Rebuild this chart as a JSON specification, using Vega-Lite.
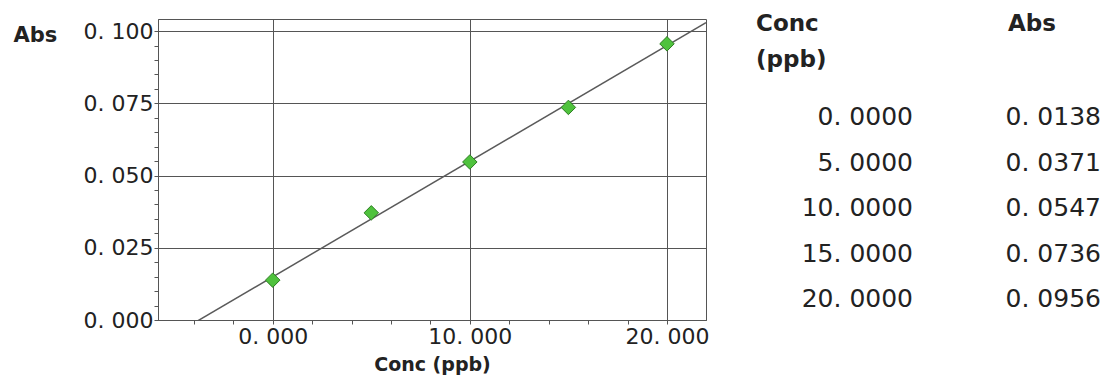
{
  "$schema": "https://vega.github.io/schema/vega-lite/v6.json",
  "padding": {"left": 12, "top": 13, "right": 0, "bottom": 0},
  "autosize": {"type": "pad"},
  "background": "white",
  "bounds": "flush",
  "spacing": 20,
  "config": {
    "font": "DejaVu Sans",
    "view": {"stroke": "#555555", "strokeWidth": 1}
  },
  "data": {
    "values": [
      {"conc": 0, "abs": 0.0138, "concText": "0. 0000", "absText": "0. 0138"},
      {"conc": 5, "abs": 0.0371, "concText": "5. 0000", "absText": "0. 0371"},
      {"conc": 10, "abs": 0.0547, "concText": "10. 0000", "absText": "0. 0547"},
      {"conc": 15, "abs": 0.0736, "concText": "15. 0000", "absText": "0. 0736"},
      {"conc": 20, "abs": 0.0956, "concText": "20. 0000", "absText": "0. 0956"}
    ]
  },
  "hconcat": [
    {
      "width": 548,
      "height": 301,
      "encoding": {
        "x": {
          "field": "conc",
          "type": "quantitative",
          "scale": {"domain": [-5.82, 21.98], "nice": false, "zero": false},
          "axis": {
            "title": "Conc (ppb)",
            "values": [-4, -2, 0, 2, 4, 6, 8, 10, 12, 14, 16, 18, 20],
            "labelExpr": "datum.value % 10 === 0 ? replace(format(datum.value, '.3f'), '.', '. ') : ''",
            "labelFontSize": 22,
            "labelColor": "#222222",
            "labelPadding": 2,
            "labelFlush": false,
            "labelOverlap": false,
            "grid": true,
            "gridColor": "#555555",
            "gridOpacity": {"condition": {"test": "datum.value % 10 === 0", "value": 1}, "value": 0},
            "tickColor": "#555555",
            "tickSize": 4,
            "domainColor": "#555555",
            "titleFontSize": 19,
            "titleFontWeight": "bold",
            "titleColor": "#222222",
            "titlePadding": 8
          }
        },
        "y": {
          "field": "abs",
          "type": "quantitative",
          "scale": {"domain": [0, 0.1042], "nice": false, "zero": false},
          "axis": {
            "title": "Abs",
            "values": [0, 0.005, 0.01, 0.015, 0.02, 0.025, 0.03, 0.035, 0.04, 0.045, 0.05, 0.055, 0.06, 0.065, 0.07, 0.075, 0.08, 0.085, 0.09, 0.095, 0.1],
            "labelExpr": "abs(datum.value * 40 - round(datum.value * 40)) < 0.001 ? replace(format(datum.value, '.3f'), '.', '. ') : ''",
            "labelFontSize": 22,
            "labelColor": "#222222",
            "labelPadding": 1,
            "labelOverlap": false,
            "labelFlush": false,
            "grid": true,
            "gridColor": "#555555",
            "gridOpacity": {"condition": {"test": "abs(datum.value * 40 - round(datum.value * 40)) < 0.001", "value": 1}, "value": 0},
            "tickColor": "#555555",
            "tickSize": 4,
            "domainColor": "#555555",
            "titleFontSize": 21,
            "titleFontWeight": "bold",
            "titleColor": "#222222",
            "titleAngle": 0,
            "titleAlign": "left",
            "titleBaseline": "middle",
            "titleX": -145,
            "titleY": 16
          }
        }
      },
      "layer": [
        {
          "transform": [{"regression": "abs", "on": "conc", "extent": [-5.82, 21.98]}],
          "mark": {"type": "line", "color": "#5a5a5a", "strokeWidth": 1.5, "clip": true}
        },
        {
          "mark": {"type": "point", "shape": "diamond", "filled": true, "fill": "#4fc23d", "stroke": "#2d7f22", "strokeWidth": 1, "size": 210, "opacity": 1}
        }
      ]
    },
    {
      "width": 380,
      "height": 301,
      "view": {"stroke": null},
      "layer": [
        {
          "mark": {"type": "text", "align": "right", "baseline": "middle", "fontSize": 25, "color": "#222222"},
          "encoding": {
            "x": {"datum": "Conc", "type": "nominal", "scale": {"type": "point", "domain": ["Conc", "Abs"], "range": [187, 375], "padding": 0}, "axis": null},
            "y": {"field": "conc", "type": "quantitative", "scale": {"domain": [-10.77, 22.3], "reverse": true, "nice": false, "zero": false}, "axis": null},
            "text": {"field": "concText"}
          }
        },
        {
          "mark": {"type": "text", "align": "right", "baseline": "middle", "fontSize": 25, "color": "#222222"},
          "encoding": {
            "x": {"datum": "Abs", "type": "nominal", "axis": null},
            "y": {"field": "conc", "type": "quantitative", "axis": null},
            "text": {"field": "absText"}
          }
        },
        {
          "data": {"values": [{"h": "Conc\n(ppb)"}]},
          "mark": {"type": "text", "align": "left", "baseline": "top", "fontSize": 23, "fontWeight": "bold", "color": "#222222", "lineBreak": "\n", "lineHeight": 36, "dx": -157, "dy": -13},
          "encoding": {
            "x": {"datum": "Conc", "type": "nominal", "axis": null},
            "y": {"datum": -10, "type": "quantitative", "axis": null},
            "text": {"field": "h"}
          }
        },
        {
          "data": {"values": [{"h": "Abs"}]},
          "mark": {"type": "text", "align": "left", "baseline": "top", "fontSize": 23, "fontWeight": "bold", "color": "#222222", "dx": -93, "dy": -13},
          "encoding": {
            "x": {"datum": "Abs", "type": "nominal", "axis": null},
            "y": {"datum": -10, "type": "quantitative", "axis": null},
            "text": {"field": "h"}
          }
        }
      ]
    }
  ]
}
